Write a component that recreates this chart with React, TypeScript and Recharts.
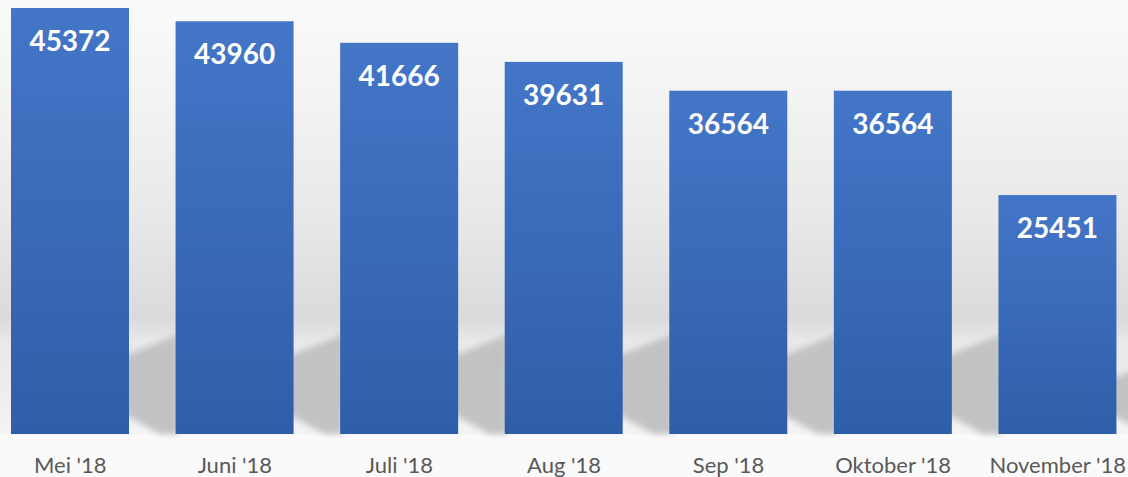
import { BarChart, Bar, XAxis, YAxis, LabelList } from 'recharts';

const months = ["Mei '18", "Juni '18", "Juli '18", "Aug '18", "Sep '18", "Oktober '18", "November '18"];
const visitors = [45372, 43960, 41666, 39631, 36564, 36564, 25451];

const data = months.map((month, i) => ({ month, value: visitors[i] }));

const FONT = 'Lato, "Open Sans", sans-serif';

// bar with soft floor shadow to its right
const ShadowBar = (props: any) => {
  const { x, y, width, height, index } = props;
  const right = x + width;
  const base = y + height;
  const s = Math.min(80, height * 0.24);
  const pts = [
    [right - 30, base - s + 10],
    [right, base - s],
    [right + 50, base - s - 20],
    [right + 50, base],
    [right + 31, base],
    [right, base - 17],
    [right - 30, base - 30],
  ]
    .map((p) => p.join(','))
    .join(' ');
  return (
    <g>
      <defs>
        <linearGradient id={`barFill${index}`} x1="0" y1="0" x2="0" y2="1">
          <stop offset="0%" stopColor="#4476c8" />
          <stop offset="100%" stopColor="#2f5ea9" />
        </linearGradient>
        <filter id={`blur${index}`} x="-50%" y="-50%" width="200%" height="200%">
          <feGaussianBlur stdDeviation="3" />
        </filter>
      </defs>
      <polygon points={pts} fill="#c2c2c2" filter={`url(#blur${index})`} />
      <rect x={x} y={y} width={width} height={height} fill={`url(#barFill${index})`} />
    </g>
  );
};

const renderValue = (props: any) => {
  const { x, y, width, value } = props;
  return (
    <text
      x={x + width / 2}
      y={y + 43}
      textAnchor="middle"
      fill="#ffffff"
      fontSize={28}
      fontWeight={700}
      fontFamily={FONT}
    >
      {value}
    </text>
  );
};

export default function App() {
  return (
    <div
      style={{
        position: 'absolute',
        left: 0,
        top: 0,
        width: 1128,
        height: 477,
        overflow: 'hidden',
        background:
          'linear-gradient(to bottom, #fafafa 0px, #f3f3f3 100px, #e8e8e8 220px, #dadada 318px, #e9e9e9 342px, #eeeeee 400px, #f4f4f4 434px, #fafafa 435px, #fafafa 477px)',
      }}
    >
      <div style={{ position: 'absolute', left: -12, top: 0 }}>
        <BarChart
          width={1152}
          height={477}
          data={data}
          margin={{ top: 8, right: 0, left: 0, bottom: 0 }}
        >
          <XAxis
            dataKey="month"
            axisLine={false}
            tickLine={false}
            height={43}
            interval={0}
            tickMargin={17}
            tick={{ fill: '#595959', fontSize: 22, fontFamily: FONT }}
          />
          <YAxis hide domain={[0, 'dataMax']} />
          <Bar dataKey="value" barSize={118} shape={ShadowBar} isAnimationActive={false}>
            <LabelList dataKey="value" content={renderValue} />
          </Bar>
        </BarChart>
      </div>
    </div>
  );
}
